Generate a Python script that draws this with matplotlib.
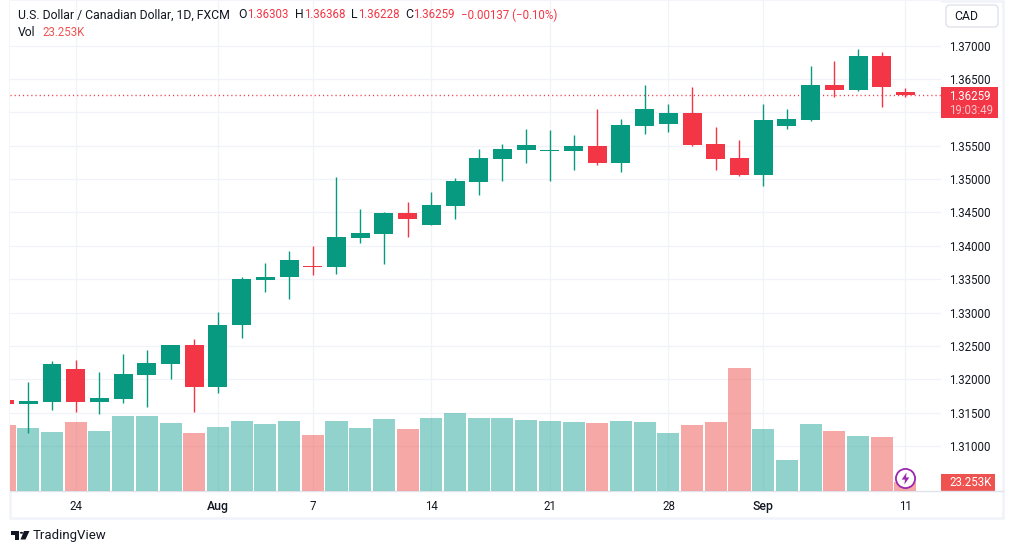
import matplotlib
matplotlib.use("Agg")
import matplotlib.pyplot as plt
from matplotlib.lines import Line2D
from matplotlib.patches import Rectangle, FancyBboxPatch, Polygon, Circle

W, H = 1013, 553

opens = [1.31689, 1.31629, 1.31659, 1.32154, 1.31659, 1.31704, 1.32064, 1.32228, 1.32513, 1.31884,
         1.32813, 1.33487, 1.33532, 1.33697, 1.33682, 1.34116, 1.34176, 1.34491, 1.34311, 1.34596,
         1.34955, 1.35300, 1.35434, 1.35419, 1.35419, 1.35494, 1.35240, 1.35794, 1.35824, 1.35989,
         1.35524, 1.35315, 1.35060, 1.35794, 1.35884, 1.36408, 1.36333, 1.36843, 1.36303]
highs = [1.31720, 1.31959, 1.32273, 1.32288, 1.32109, 1.32378, 1.32438, 1.32513, 1.32603, 1.33008,
         1.33532, 1.33742, 1.33921, 1.33996, 1.35030, 1.34551, 1.34506, 1.34655, 1.34805, 1.35015,
         1.35449, 1.35524, 1.35749, 1.35734, 1.35659, 1.36049, 1.35899, 1.36408, 1.36124, 1.36378,
         1.35779, 1.35584, 1.36124, 1.36049, 1.36693, 1.36768, 1.36948, 1.36903, 1.36368]
lows = [1.31600, 1.31195, 1.31539, 1.31509, 1.31479, 1.31644, 1.31584, 1.32004, 1.31509, 1.31794,
        1.32618, 1.33307, 1.33202, 1.33562, 1.33577, 1.34041, 1.33727, 1.34131, 1.34311, 1.34401,
        1.34760, 1.34970, 1.35240, 1.34970, 1.35135, 1.35210, 1.35105, 1.35674, 1.35704, 1.35494,
        1.35135, 1.35045, 1.34895, 1.35749, 1.35869, 1.36228, 1.36318, 1.36079, 1.36228]
closes = [1.31629, 1.31674, 1.32228, 1.31659, 1.31719, 1.32079, 1.32243, 1.32513, 1.31884, 1.32813,
          1.33502, 1.33532, 1.33787, 1.33682, 1.34131, 1.34191, 1.34491, 1.34401, 1.34611, 1.34970,
          1.35315, 1.35449, 1.35509, 1.35434, 1.35494, 1.35240, 1.35809, 1.36049, 1.35989, 1.35509,
          1.35300, 1.35060, 1.35884, 1.35899, 1.36408, 1.36333, 1.36843, 1.36378, 1.36259]
# volume in thousands
volumes = [170.5, 162.8, 152.5, 178.3, 155.0, 193.8, 193.8, 175.7, 149.9, 165.4,
           180.9, 173.1, 180.9, 144.7, 180.9, 162.8, 186.0, 160.2, 188.6, 201.6,
           188.6, 188.6, 183.5, 180.9, 178.3, 175.7, 180.9, 178.3, 149.9, 170.5,
           178.3, 317.8, 160.2, 80.1, 173.1, 155.0, 142.1, 139.5, 23.253]

date_ticks = [3, 9, 13, 18, 23, 28, 32, 38]
date_labels = ["24", "Aug", "7", "14", "21", "28", "Sep", "11"]
price_ticks = [1.31, 1.315, 1.32, 1.325, 1.33, 1.335, 1.34, 1.345, 1.35, 1.355, 1.36, 1.365, 1.37]

GREEN = "#089981"
RED = "#F23645"
GREEN_VOL = "#26A69A"
RED_VOL = "#EF5350"
GRID = "#F0F3FA"
TEXT = "#131722"
FS = 8.3
FS_WORDS = 8.8

plt.rcParams["font.family"] = ["Roboto", "DejaVu Sans"]
plt.rcParams["font.size"] = FS


def px(x, y):
    return x / W, 1 - y / H


def label(x, y, s, color=TEXT, **kw):
    fx, fy = px(x, y)
    fig.text(fx, fy, s, color=color, va="center", **kw)


fig = plt.figure(figsize=(W / 100, H / 100), dpi=100)

# pane is 10..941 wide, 1..491 tall in pixels
left, bottom = px(10, 491)
ax = fig.add_axes([left, bottom, (941 - 10) / W, (491 - 1) / H])
ax_vol = ax.twinx()
ax_candle = ax.twinx()
ax.set_zorder(1)
ax_vol.set_zorder(2)
ax_candle.set_zorder(3)
ax_vol.patch.set_visible(False)
ax_candle.patch.set_visible(False)

xs = list(range(len(closes)))
price_lim = (1.30326, 1.37667)
x_lim = (0.228, 39.5)

# grid on the bottom layer so it shows through the volume bars
ax.set_xlim(x_lim)
ax.set_ylim(price_lim)
ax.set_xticks(date_ticks, date_labels)
# 1.36000 sits behind the last price badge in the original
ax.set_yticks(price_ticks, ["" if p == 1.36 else f"{p:.5f}" for p in price_ticks])
ax.grid(True, color=GRID, lw=0.9)
ax.set_axisbelow(True)
ax.yaxis.tick_right()
ax.tick_params(axis="both", length=0, colors=TEXT, labelsize=FS)
ax.tick_params(axis="y", pad=5.6)
ax.tick_params(axis="x", pad=6.5)
for t in ax.get_xticklabels():
    if t.get_text() in ("Aug", "Sep"):
        t.set_fontweight("medium")
        t.set_fontsize(FS_WORDS)

vol_colors = [GREEN_VOL if c >= o else RED_VOL for o, c in zip(opens, closes)]
ax_vol.bar(xs, volumes, width=0.93, color=vol_colors, alpha=0.5, linewidth=0)
ax_vol.set_ylim(0, 1266)
ax_vol.set_yticks([])

colors = [GREEN if c >= o else RED for o, c in zip(opens, closes)]
ax_candle.axhline(closes[-1], color=RED, lw=1.0, ls=(0, (0.8, 2.2)), zorder=1)
ax_candle.vlines(xs, lows, highs, colors=colors, lw=1.0, zorder=2)
ax_candle.bar(xs, [abs(c - o) for o, c in zip(opens, closes)], bottom=[min(o, c) for o, c in zip(opens, closes)],
              width=0.8, color=colors, linewidth=0, zorder=3)
ax_candle.set_ylim(price_lim)
ax_candle.set_yticks([])

for a in (ax, ax_vol, ax_candle):
    a.set_xlim(x_lim)
    for s in a.spines.values():
        s.set_visible(False)

# news marker on the last bar
ax_candle.scatter([xs[-1]], [1.30521], s=190, facecolor="white", edgecolor="#9C27B0", linewidth=1.3, zorder=4)
bolt = [(1.0, 5.5), (-3.5, -1.0), (-0.5, -1.0), (-1.0, -5.5), (3.5, 1.0), (0.5, 1.0)]
ax_candle.scatter([xs[-1]], [1.30521], s=75, marker=bolt, color="#9C27B0", linewidth=0, zorder=5)

# outer frame and time axis line
x0, y0 = px(10, 518)
x1, y1 = px(1003, 1)
fig.add_artist(Rectangle((x0, y0), x1 - x0, y1 - y0, transform=fig.transFigure, fill=False, edgecolor=GRID, lw=1.8))
fig.add_artist(Line2D([x0, x1], [bottom, bottom], transform=fig.transFigure, color="#E0E3EB", lw=1.0))

# header
label(18, 15, "U.S. Dollar / Canadian Dollar, 1D, FXCM", fontsize=FS_WORDS)
label(238, 15, "O", fontsize=FS_WORDS)
label(247, 15, "1.36303", color=RED)
label(295, 15, "H", fontsize=FS_WORDS)
label(304, 15, "1.36368", color=RED)
label(351, 15, "L", fontsize=FS_WORDS)
label(358, 15, "1.36228", color=RED)
label(405, 15, "C", fontsize=FS_WORDS)
label(413, 15, "1.36259", color=RED)
label(461, 15, "\u22120.00137 (\u22120.10%)", color=RED)
label(18, 32, "Vol", fontsize=FS_WORDS)
label(42, 32, "23.253K", color=RED_VOL)

# currency button
bx, by = px(946, 27)
fig.add_artist(FancyBboxPatch((bx, by), 52 / W, 22 / H, transform=fig.transFigure, boxstyle="round,pad=0,rounding_size=0.004",
                              facecolor="white", edgecolor="#E0E3EB", lw=1.0, mutation_aspect=W / H))
label(954, 16.5, "CAD", fontsize=FS_WORDS)

# last price and volume badges
rx, ry = px(941, 118)
fig.add_artist(Rectangle((rx, ry), 57 / W, 31 / H, transform=fig.transFigure, facecolor=RED, edgecolor="none"))
label(949, 96, "1.36259", color="white")
label(949, 110, "19:03:49", color="#FBC4C9")
rx, ry = px(941, 491)
fig.add_artist(Rectangle((rx, ry), 54 / W, 17 / H, transform=fig.transFigure, facecolor=RED_VOL, edgecolor="none"))
label(949, 482.5, "23.253K", color="white")

# TradingView logo
logo = [[(10.7, 531), (19, 531), (19, 539.5), (14.5, 539.5), (14.5, 534.5), (10.7, 534.5)],
        [(24, 531), (29.5, 531), (25.5, 539.5), (20.5, 539.5)]]
for shape in logo:
    fig.add_artist(Polygon([px(a, b) for a, b in shape], closed=True, transform=fig.transFigure,
                           facecolor=TEXT, edgecolor="none"))
cx, cy = px(21.5, 532.8)
fig.add_artist(Circle((cx, cy), 1.7 / W, transform=fig.transFigure, facecolor=TEXT, edgecolor="none"))
label(33, 536, "TradingView", fontsize=9.5)

fig.savefig("out.png", dpi=100)
